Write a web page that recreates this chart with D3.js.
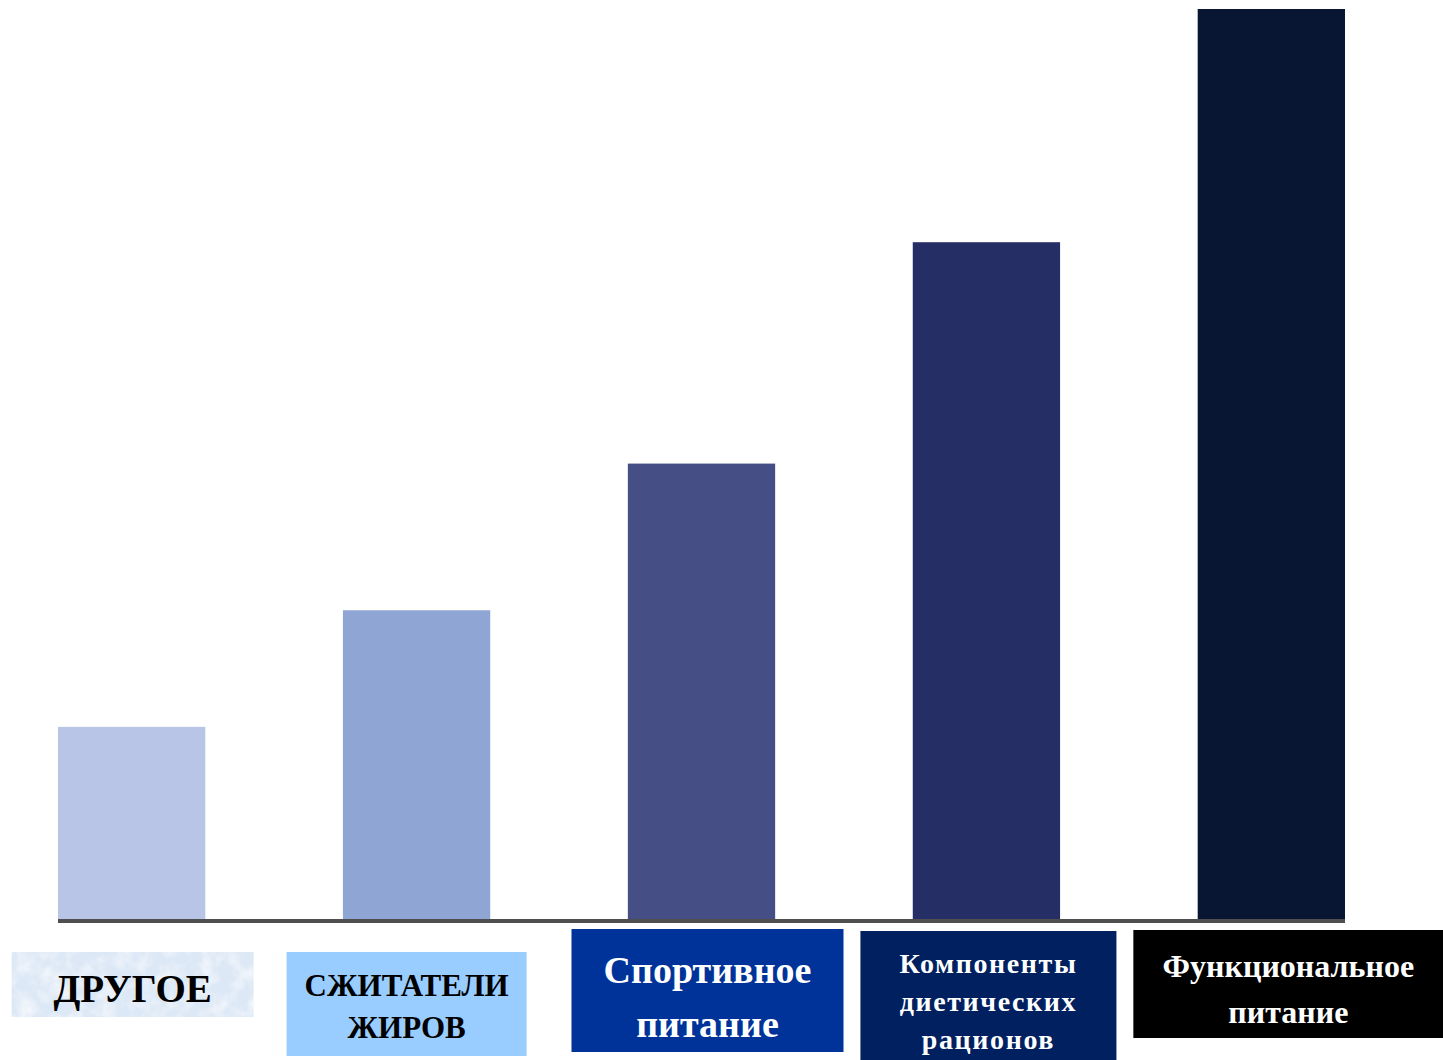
<!DOCTYPE html>
<html>
<head>
<meta charset="utf-8">
<script src="https://cdn.jsdelivr.net/npm/d3@7"></script>
<style>
  html, body { margin: 0; padding: 0; background: #fff; }
  svg { display: block; }
</style>
</head>
<body>
<svg id="chart" width="1443" height="1060"></svg>
<script>
// Market segments, smallest to largest
const categories = ["other", "fatBurners", "sport", "diet", "functional"];
const values = [21.2, 34.0, 50.1, 74.4, 100];
const labelLines = [
  ["ДРУГОЕ"],
  ["СЖИТАТЕЛИ", "ЖИРОВ"],
  ["Спортивное", "питание"],
  ["Компоненты", "диетических", "рационов"],
  ["Функциональное", "питание"]
];
const barColors = ["#b8c5e6", "#8fa5d4", "#454f86", "#262e66", "#081633"];

// Caption boxes under the axis
const boxStyles = [
  { fill: "#dce8f6", text: "#000", size: 39, w: 242, top: 952, h: 65, dx: 1, lines: [988], spacing: 0, texture: true },
  { fill: "#99ccff", text: "#000", size: 31, w: 240, top: 952, h: 104, dx: -10, lines: [985, 1027], spacing: 0 },
  { fill: "#003399", text: "#fff", size: 38, w: 272, top: 929, h: 123, dx: 6, lines: [970, 1024], spacing: 0 },
  { fill: "#002060", text: "#fff", size: 28, w: 256, top: 931, h: 129, dx: 2, lines: [963, 1001, 1039], spacing: 1.6 },
  { fill: "#000000", text: "#fff", size: 32, w: 310, top: 930, h: 108, dx: 17, lines: [966, 1012], spacing: 0 }
];

const svg = d3.select("#chart");
const baseline = 920;

const x = d3.scaleBand()
  .domain(categories)
  .range([58, 1345])
  .paddingInner(0.483)
  .paddingOuter(0);

const y = d3.scaleLinear()
  .domain([0, 100])
  .range([baseline, 9]);

// Mottled texture for the first caption box
const defs = svg.append("defs");
const f = defs.append("filter").attr("id", "mottle").attr("x", 0).attr("y", 0).attr("width", 1).attr("height", 1);
f.append("feTurbulence").attr("type", "fractalNoise").attr("baseFrequency", 0.06).attr("numOctaves", 3).attr("seed", 4).attr("result", "noise");
f.append("feColorMatrix").attr("in", "noise").attr("type", "matrix")
  .attr("values", "0 0 0 0 1  0 0 0 0 1  0 0 0 0 1  0 0 0 1.4 -0.55").attr("result", "spots");
f.append("feComposite").attr("in", "spots").attr("in2", "SourceGraphic").attr("operator", "atop");

// Bars
svg.append("g")
  .selectAll("rect")
  .data(categories)
  .join("rect")
  .attr("x", d => x(d))
  .attr("y", (d, i) => y(values[i]))
  .attr("width", x.bandwidth())
  .attr("height", (d, i) => y(0) - y(values[i]))
  .attr("fill", (d, i) => barColors[i]);

// Baseline axis spanning the band range
const [x0, x1] = x.range();
const axis = d3.axisBottom(x).tickSize(0).tickFormat("");
const gAxis = svg.append("g").attr("transform", `translate(0,${baseline + 1})`).call(axis);
gAxis.select(".domain")
  .attr("stroke", "#4f4f4f")
  .attr("stroke-width", 4)
  .attr("d", `M${x0},0H${x1}`);

// Caption boxes
const caps = svg.append("g")
  .selectAll("g")
  .data(categories)
  .join("g");

caps.append("rect")
  .attr("x", (d, i) => x(d) + x.bandwidth() / 2 + boxStyles[i].dx - boxStyles[i].w / 2)
  .attr("y", (d, i) => boxStyles[i].top)
  .attr("width", (d, i) => boxStyles[i].w)
  .attr("height", (d, i) => boxStyles[i].h)
  .attr("fill", (d, i) => boxStyles[i].fill)
  .attr("filter", (d, i) => boxStyles[i].texture ? "url(#mottle)" : null);

caps.each(function(d, i) {
  const s = boxStyles[i];
  const cx = x(d) + x.bandwidth() / 2 + s.dx;
  d3.select(this).selectAll("text")
    .data(labelLines[i])
    .join("text")
    .attr("x", cx)
    .attr("y", (t, j) => s.lines[j])
    .attr("dy", "0.35em")
    .attr("text-anchor", "middle")
    .attr("font-family", "'Liberation Serif', 'Times New Roman', serif")
    .attr("font-weight", "bold")
    .attr("font-size", s.size)
    .attr("letter-spacing", s.spacing)
    .attr("fill", s.text)
    .text(t => t);
});
</script>
</body>
</html>
